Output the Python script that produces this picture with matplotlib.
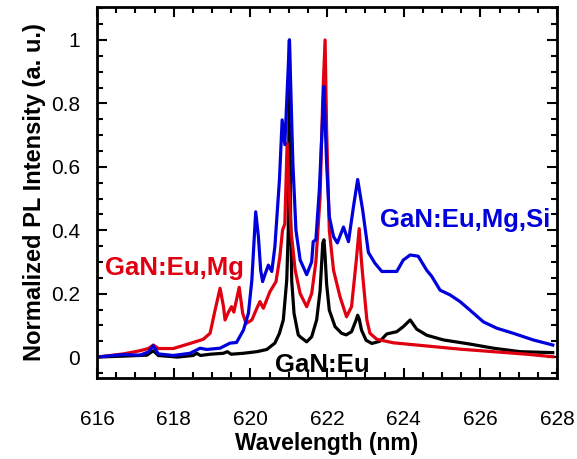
import matplotlib
matplotlib.use("Agg")
from matplotlib import pyplot as plt
from matplotlib.ticker import MultipleLocator

plt.rcParams['font.family'] = ['Liberation Sans', 'DejaVu Sans']

# GaN:Eu
wl_eu = [616.0, 616.69, 617.3, 617.47, 617.6, 618.1, 618.51, 618.6, 618.7, 618.95, 619.3,
         619.4, 619.5, 619.82, 620.17, 620.43, 620.64, 620.76, 620.86, 620.95, 620.99,
         621.02, 621.05, 621.08, 621.14, 621.25, 621.3, 621.47, 621.6, 621.73, 621.82,
         621.89, 621.92, 621.95, 621.99, 622.06, 622.21, 622.38, 622.5, 622.64, 622.76,
         622.8, 622.84, 622.9, 623.02, 623.17, 623.38, 623.56, 623.82, 623.99, 624.17,
         624.34, 624.6, 625.04, 625.73, 626.34, 627.04, 627.89]
int_eu = [0.0, 0.003, 0.006, 0.02, 0.005, 0.0, 0.005, 0.012, 0.005, 0.009, 0.012,
          0.017, 0.009, 0.012, 0.017, 0.024, 0.044, 0.075, 0.117, 0.243, 0.4,
          1.0, 0.45, 0.24, 0.138, 0.07, 0.064, 0.048, 0.064, 0.117, 0.21,
          0.36, 0.37, 0.32, 0.23, 0.148, 0.096, 0.075, 0.07, 0.08, 0.117,
          0.132, 0.12, 0.085, 0.053, 0.043, 0.05, 0.073, 0.08, 0.096, 0.117,
          0.088, 0.069, 0.054, 0.041, 0.028, 0.017, 0.014]

# GaN:Eu,Mg
wl_mg = [616.0, 616.69, 617.12, 617.34, 617.47, 617.6, 617.99, 618.43, 618.77, 618.95,
         619.08, 619.21, 619.3, 619.34, 619.43, 619.51, 619.57, 619.71, 619.8, 619.89,
         620.04, 620.17, 620.25, 620.34, 620.51, 620.67, 620.77, 620.84, 620.9, 620.96,
         621.06, 621.17, 621.3, 621.47, 621.6, 621.71, 621.82, 621.89, 621.95, 621.99,
         622.06, 622.17, 622.34, 622.51, 622.64, 622.76, 622.84, 622.9, 622.95, 623.04,
         623.12, 623.3, 623.73, 624.6, 625.47, 626.34, 627.21, 627.89]
int_mg = [0.0, 0.01, 0.02, 0.027, 0.038, 0.027, 0.027, 0.043, 0.056, 0.075,
          0.148, 0.217, 0.159, 0.117, 0.142, 0.159, 0.142, 0.22, 0.138, 0.106,
          0.117, 0.154, 0.175, 0.154, 0.206, 0.238, 0.316, 0.4, 0.42, 0.675,
          0.4, 0.274, 0.2, 0.159, 0.2, 0.3, 0.506, 0.82, 1.0, 0.716,
          0.4, 0.274, 0.19, 0.127, 0.159, 0.3, 0.405, 0.3, 0.233, 0.117,
          0.075, 0.056, 0.045, 0.035, 0.025, 0.017, 0.009, 0.001]

# GaN:Eu,Mg,Si
wl_si = [616.0, 616.69, 617.12, 617.34, 617.47, 617.6, 617.99, 618.43, 618.69, 618.86,
         619.21, 619.47, 619.64, 619.82, 619.95, 620.04, 620.14, 620.21, 620.27, 620.32,
         620.38, 620.47, 620.56, 620.64, 620.7, 620.76, 620.83, 620.9, 621.02, 621.11,
         621.19, 621.3, 621.47, 621.6, 621.64, 621.71, 621.8, 621.89, 621.92, 621.99,
         622.06, 622.17, 622.27, 622.43, 622.56, 622.69, 622.8, 622.93, 623.08, 623.25,
         623.43, 623.82, 623.99, 624.17, 624.38, 624.6, 624.73, 624.95, 625.21, 625.47,
         625.73, 626.08, 626.43, 626.86, 627.38, 627.89]
int_si = [0.0, 0.008, 0.006, 0.016, 0.036, 0.01, 0.005, 0.012, 0.028, 0.024,
          0.028, 0.044, 0.046, 0.085, 0.138, 0.243, 0.458, 0.38, 0.274, 0.238,
          0.26, 0.29, 0.27, 0.348, 0.454, 0.56, 0.748, 0.67, 1.0, 0.61,
          0.4, 0.306, 0.26, 0.3, 0.364, 0.37, 0.527, 0.77, 0.853, 0.61,
          0.443, 0.38, 0.36, 0.41, 0.364, 0.474, 0.56, 0.464, 0.33, 0.296,
          0.27, 0.27, 0.306, 0.322, 0.318, 0.274, 0.255, 0.211, 0.196, 0.175,
          0.148, 0.111, 0.091, 0.075, 0.054, 0.038]

RED = '#e00010'
BLUE = '#0000dd'


def main():
    fig = plt.figure(figsize=(5.77, 4.59), dpi=100)
    ax = fig.add_axes([97 / 577, 1 - 378 / 459, 460 / 577, 371 / 459])

    ax.plot(wl_eu, int_eu, color='black', lw=2.3)
    ax.plot(wl_mg, int_mg, color=RED, lw=2.3)
    ax.plot(wl_si, int_si, color=BLUE, lw=2.3)

    ax.set_xlim(616, 628)
    ax.set_ylim(-0.066, 1.104)
    ax.xaxis.set_major_locator(MultipleLocator(2))
    ax.xaxis.set_minor_locator(MultipleLocator(0.5))
    ax.yaxis.set_minor_locator(MultipleLocator(0.05))
    ax.set_yticks([0, 0.2, 0.4, 0.6, 0.8, 1.0])
    ax.set_yticklabels(['0', '0.2', '0.4', '0.6', '0.8', '1'])
    ax.tick_params(which='both', direction='in', top=True, right=True, labelsize=15, width=1.5)
    ax.tick_params(which='major', length=7)
    ax.tick_params(axis='x', which='major', pad=23)
    ax.tick_params(axis='y', which='major', pad=12)
    ax.tick_params(which='minor', length=4)
    for s in ax.spines.values():
        s.set_linewidth(2)

    ax.set_xlabel('Wavelength (nm)', fontsize=16.5, fontweight='bold', labelpad=2)
    ax.set_ylabel('Normalized PL Intensity (a. u.)', fontsize=17, fontweight='bold', labelpad=4)

    ax.text(616.21, 0.259, 'GaN:Eu,Mg', color=RED, fontsize=18.5, fontweight='bold', va='baseline')
    ax.text(623.38, 0.41, 'GaN:Eu,Mg,Si', color=BLUE, fontsize=18.5, fontweight='bold', va='baseline')
    ax.text(620.64, -0.046, 'GaN:Eu', color='black', fontsize=18.5, fontweight='bold', va='baseline')

    fig.savefig('out.png', dpi=100)


if __name__ == '__main__':
    main()
